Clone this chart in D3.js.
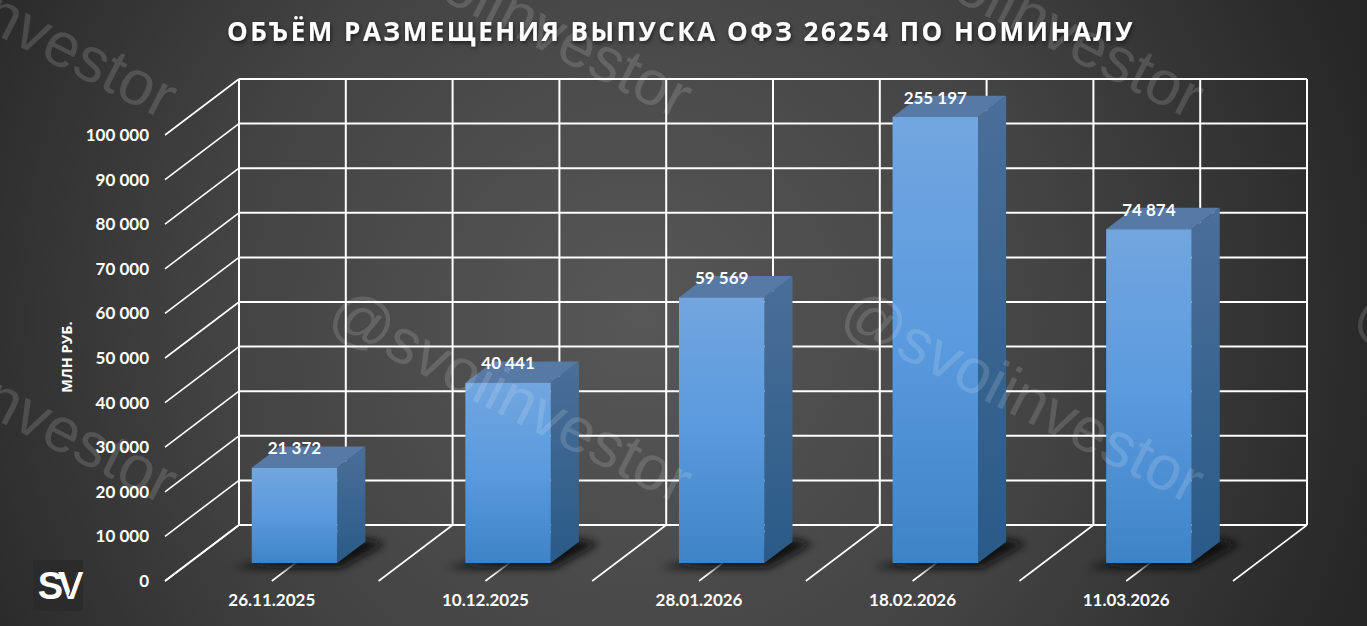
<!DOCTYPE html>
<html>
<head>
<meta charset="utf-8">
<script src="https://cdn.jsdelivr.net/npm/d3@7/dist/d3.min.js"></script>
<style>
html,body{margin:0;padding:0;background:#333;overflow:hidden;}
text{font-family:"Open Sans","Noto Sans",sans-serif;fill:#fff;}
</style>
</head>
<body>
<div id="chart"></div>
<script>
// data
const dates = ["26.11.2025","10.12.2025","28.01.2026","18.02.2026","11.03.2026"];
const volumes = [21372,40441,59569,255197,74874];
const yTicks = [0,10000,20000,30000,40000,50000,60000,70000,80000,90000,100000];
const titleText = "ОБЪЁМ РАЗМЕЩЕНИЯ ВЫПУСКА ОФЗ 26254 ПО НОМИНАЛУ";
const yTitle = "МЛН РУБ.";
const watermark = "@svoiinvestor";
const yMax = 100000;

const W = 1367, H = 626;
const numFont = "Lato,'Open Sans',sans-serif";
const svg = d3.select("#chart").append("svg").attr("width",W).attr("height",H).style("display","block");
const defs = svg.append("defs");

// background
const bg = defs.append("radialGradient").attr("id","bg").attr("gradientUnits","userSpaceOnUse")
    .attr("cx",640).attr("cy",320).attr("r",760);
bg.append("stop").attr("offset","0%").attr("stop-color","#575757");
bg.append("stop").attr("offset","55%").attr("stop-color","#434343");
bg.append("stop").attr("offset","100%").attr("stop-color","#272727");
svg.append("rect").attr("width",W).attr("height",H).attr("fill","url(#bg)");

function addGrad(id, stops){
    let g = defs.append("linearGradient").attr("id",id).attr("x1",0).attr("y1",0).attr("x2",0).attr("y2",1);
    stops.forEach(s => g.append("stop").attr("offset",s[0]).attr("stop-color",s[1]));
}
addGrad("front",[["0%","#72a6df"],["50%","#5a9ade"],["100%","#3f83c7"]]);
addGrad("side",[["0%","#4a6f98"],["100%","#2a5a88"]]);
defs.append("filter").attr("id","blur").attr("x","-30%").attr("y","-60%").attr("width","160%").attr("height","220%")
    .append("feGaussianBlur").attr("stdDeviation",4);
const ds = defs.append("filter").attr("id","tshadow").attr("x","-5%").attr("y","-30%").attr("width","110%").attr("height","170%");
ds.append("feDropShadow").attr("dx",1).attr("dy",2).attr("stdDeviation",2).attr("flood-color","#000").attr("flood-opacity",0.6);

// scales: front plane + depth
const x = d3.scaleBand().domain(dates).range([165,1233]).paddingInner(0.6).paddingOuter(0.3);
const xGrid = d3.scaleLinear().domain([0,dates.length]).range([165,1233]);
const y = d3.scaleLinear().domain([0,yMax]).range([581,135]);
const depthX = d3.scaleLinear().domain([0,1]).range([0,74]);
const depthY = d3.scaleLinear().domain([0,1]).range([0,-56]);
const zFront = 0.32, zBack = 0.70;
const gridSteps = d3.range(0,dates.length+0.5,0.5);

// grid
const grid = svg.append("g").attr("stroke","#fff").attr("fill","none");
grid.selectAll(".back-h").data(yTicks).join("line")
    .attr("x1",xGrid(0)+depthX(1)).attr("x2",xGrid(dates.length)+depthX(1))
    .attr("y1",d=>y(d)+depthY(1)).attr("y2",d=>y(d)+depthY(1)).attr("stroke-width",2);
grid.selectAll(".back-v").data(gridSteps).join("line")
    .attr("x1",d=>xGrid(d)+depthX(1)).attr("x2",d=>xGrid(d)+depthX(1))
    .attr("y1",y(yMax)+depthY(1)).attr("y2",y(0)+depthY(1)).attr("stroke-width",2);
grid.selectAll(".side").data(yTicks).join("line")
    .attr("x1",xGrid(0)).attr("x2",xGrid(0)+depthX(1))
    .attr("y1",d=>y(d)).attr("y2",d=>y(d)+depthY(1)).attr("stroke-width",1.6);
grid.selectAll(".floor").data(gridSteps).join("line")
    .attr("x1",d=>xGrid(d)).attr("x2",d=>xGrid(d)+depthX(1))
    .attr("y1",y(0)).attr("y2",y(0)+depthY(1)).attr("stroke-width",1.6);

// bars
const bars = svg.append("g").selectAll("g").data(dates.map((d,i)=>({d:d,v:volumes[i]}))).join("g");
const px = (d,off,z) => x(d.d)+off-1+depthX(z);
const py = (val,z) => y(val)+depthY(z);
const pts = a => a.map(p=>p.join(",")).join(" ");

bars.append("polygon").attr("filter","url(#blur)").attr("fill","#111").attr("fill-opacity",0.95)
    .attr("points",d=>{
        let b=x.bandwidth();
        return pts([[px(d,-20,zFront),py(0,zFront)+5],[px(d,b+4,zFront),py(0,zFront)+5],
            [px(d,b+20,zBack),py(0,zBack)+2],[px(d,b,zBack),py(0,zBack)-3]]);
    });
bars.append("polygon").attr("fill","#5679a6")
    .attr("points",d=>{
        let b=x.bandwidth(), v=Math.min(d.v,yMax);
        return pts([[px(d,0,zFront),py(v,zFront)],[px(d,b,zFront),py(v,zFront)],
            [px(d,b,zBack),py(v,zBack)],[px(d,0,zBack),py(v,zBack)]]);
    });
bars.append("polygon").attr("fill","url(#side)")
    .attr("points",d=>{
        let b=x.bandwidth(), v=Math.min(d.v,yMax);
        return pts([[px(d,b,zFront),py(v,zFront)],[px(d,b,zBack),py(v,zBack)],
            [px(d,b,zBack),py(0,zBack)],[px(d,b,zFront),py(0,zFront)]]);
    });
bars.append("polygon").attr("fill","url(#front)")
    .attr("points",d=>{
        let b=x.bandwidth(), v=Math.min(d.v,yMax);
        return pts([[px(d,0,zFront),py(v,zFront)],[px(d,b,zFront),py(v,zFront)],
            [px(d,b,zFront),py(0,zFront)],[px(d,0,zFront),py(0,zFront)]]);
    });

const fmt = v => d3.format(",")(v).replace(/,/g," ");

bars.append("text").attr("text-anchor","middle").attr("dominant-baseline","central")
    .attr("x",d=>px(d,x.bandwidth()/2,zFront))
    .attr("y",d=>py(Math.min(d.v,yMax),zFront)-20)
    .style("font-family",numFont).style("font-size","17px").style("font-weight",700)
    .text(d=>fmt(d.v));

// axes
const axisY = d3.axisLeft(y).tickValues(yTicks).tickSize(0).tickPadding(0).tickFormat(fmt);
const gy = svg.append("g").attr("transform","translate(149,0)").call(axisY);
gy.select(".domain").remove();
gy.selectAll("text").style("font-family",numFont).style("font-size","17px").style("font-weight",700).style("fill","#fff");

const axisX = d3.axisBottom(x).tickSize(0).tickPadding(0);
const gx = svg.append("g").attr("transform","translate(0,594)").call(axisX);
gx.select(".domain").remove();
gx.selectAll("text").style("font-family",numFont).style("font-size","17px").style("font-weight",700).style("fill","#fff");

svg.append("text").attr("transform","translate(72,357) rotate(-90)").attr("text-anchor","middle")
    .style("font-size","14.5px").style("font-weight",700).text(yTitle);

svg.append("text").attr("x",681).attr("y",41).attr("text-anchor","middle")
    .attr("filter","url(#tshadow)")
    .style("font-size","26px").style("font-weight",700).style("letter-spacing","2.5px")
    .text(titleText);

// logo
const logo = svg.append("g");
logo.append("rect").attr("x",33).attr("y",560).attr("width",50).attr("height",51).attr("fill","#2b2b2b");
logo.append("text").attr("x",58).attr("y",599).attr("text-anchor","middle")
    .style("font-family","'Liberation Sans',sans-serif").style("font-weight",700).style("font-size","38px").style("letter-spacing","-5px")
    .text("SV");
logo.append("line").attr("x1",69).attr("y1",596).attr("x2",78).attr("y2",572)
    .attr("stroke","#2b2b2b").attr("stroke-width",1.3);

// watermarks over everything
const wmEnds = [[163,120],[678,120],[1190,120],[163,505],[678,505],[1190,505],[1703,505]];
svg.append("g").selectAll("text").data(wmEnds).join("text")
    .attr("text-anchor","end")
    .attr("transform", d => `translate(${d[0]},${d[1]}) rotate(27)`)
    .style("font-family","'Liberation Sans',sans-serif")
    .style("font-size","63px")
    .style("fill","#fff").style("fill-opacity",0.14)
    .text(watermark);
</script>
</body>
</html>
